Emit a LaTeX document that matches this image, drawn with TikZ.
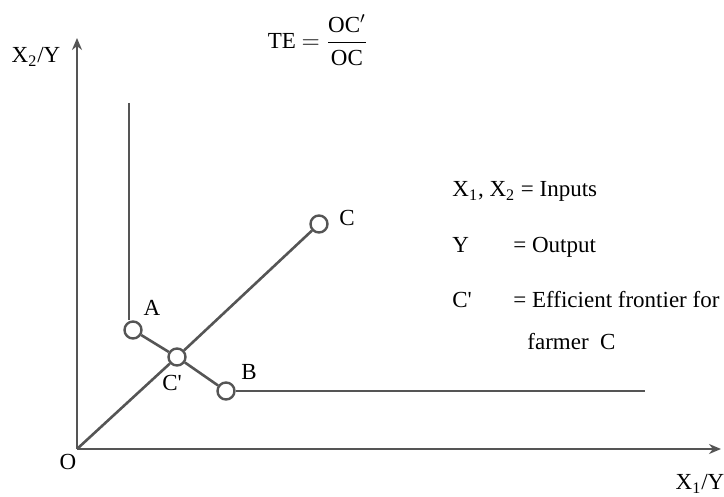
\documentclass[tikz,border=0pt]{standalone}
\usepackage{fontspec}
\setmainfont{Liberation Serif}
\usetikzlibrary{arrows.meta}
\definecolor{linegray}{HTML}{555555}
\tikzset{
  ln/.style={draw=linegray, line width=1.3pt},
  axis/.style={ln, -{Stealth[length=6pt,width=5pt]}},
  pt/.style={circle, draw=linegray, line width=1.2pt, fill=white, minimum size=8.5pt, inner sep=0pt},
  lbl/.style={font=\fontsize{11.5}{14}\selectfont, inner sep=0pt},
  leg/.style={font=\fontsize{11.5}{14}\selectfont, inner sep=0pt, anchor=base west}
}
\begin{document}
\begin{tikzpicture}[x=0.5pt,y=-0.5pt]
\useasboundingbox (0,0) rectangle (724,497);
\coordinate (O) at (77,449);
\coordinate (ytop) at (77,38);
\coordinate (xend) at (721,449);
\coordinate (Atop) at (129,103);
\coordinate (Bend) at (645,391);
\node[pt] (A) at (133,330) {};
\node[pt] (Cp) at (177,357) {};
\node[pt] (B) at (226,391) {};
\node[pt] (C) at (319,224) {};
\draw[axis] (O) -- (ytop);
\draw[axis] (O) -- (xend);
\draw[ln] (Atop) -- (Atop |- A.north);
\draw[ln] (A) -- (Cp);
\draw[ln] (Cp) -- (B);
\draw[ln] (B) -- (Bend);
\draw[ln] (O) -- (Cp);
\draw[ln] (Cp) -- (C);
% labels
\node[lbl] (lA) at (152,308) {A};
\node[lbl] (lCp) at (172,383) {C\textquotesingle};
\node[lbl] (lB) at (249,372) {B};
\node[lbl] (lC) at (347,218) {C};
\node[lbl] (lO) at (68,462) {O};
\node[lbl] (lx2) at (36,57) {X\textsubscript{2}/Y};
\node[lbl] (lx1) at (700,484) {X\textsubscript{1}/Y};
\node[lbl] (te) at (318,40) {TE $=$ $\displaystyle\frac{\mbox{OC$'$}}{\mbox{OC}}$};
% legend
\node[leg] (g1) at (452,197) {X\textsubscript{1}, X\textsubscript{2} = Inputs};
\node[leg] (g2a) at (452,253) {Y};
\node[leg] (g2b) at (513,253) {= Output};
\node[leg] (g3a) at (452,308) {C\textquotesingle};
\node[leg] (g3b) at (513,308) {= Efficient frontier for};
\node[leg] (g4) at (527,350) {farmer\ \ C};
\end{tikzpicture}
\end{document}
